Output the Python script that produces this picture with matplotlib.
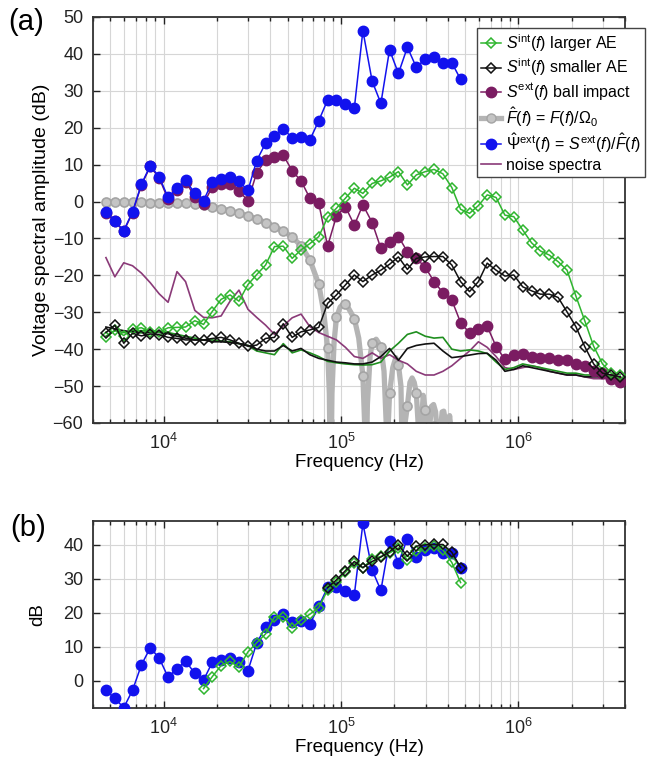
import numpy as np
import matplotlib as mpl
mpl.use('Agg')
import matplotlib.pyplot as plt
from matplotlib.lines import Line2D
from matplotlib.ticker import LogLocator, NullFormatter

plt.rcParams['font.family'] = ['Liberation Sans', 'DejaVu Sans']
plt.rcParams['mathtext.fontset'] = 'custom'
plt.rcParams['mathtext.rm'] = 'Liberation Sans'
plt.rcParams['mathtext.it'] = 'Liberation Sans:italic'
plt.rcParams['mathtext.bf'] = 'Liberation Sans:bold'

# analysis frequencies (kHz), 1/20-decade spacing
freq_khz = [4.73, 5.31, 5.96, 6.68, 7.50, 8.41, 9.44, 10.6, 11.9, 13.3,
            15.0, 16.8, 18.8, 21.1, 23.7, 26.6, 29.9, 33.5, 37.6, 42.2,
            47.3, 53.1, 59.6, 66.8, 75.0, 84.1, 94.4, 106, 119, 133,
            150, 168, 188, 211, 237, 266, 299, 335, 376, 422,
            473, 531, 596, 668, 750, 841, 944, 1059, 1189, 1334,
            1496, 1679, 1884, 2113, 2371, 2661, 2985, 3350, 3758]

# S_int(f), larger AE (dB)
larger_ae = [-36.8, -34.8, -36.3, -34.5, -34.2, -35.3, -35.4, -34.2, -34.1, -34.0,
             -32.3, -33.3, -29.8, -26.5, -25.3, -27.0, -22.5, -19.8, -17.2, -12.2,
             -12.1, -15.4, -13.1, -11.4, -9.5, -4.3, -1.8, 0.9, 3.6, 2.2,
             4.9, 5.6, 6.6, 8.1, 4.5, 7.2, 8.1, 8.7, 7.5, 3.8,
             -2.1, -3.2, -1.1, 1.8, 1.1, -3.7, -4.1, -7.7, -11.2, -13.4,
             -14.5, -16.3, -18.6, -25.6, -32.3, -39.2, -44.0, -46.5, -47.0]

# S_int(f), smaller AE (dB)
smaller_ae = [-35.5, -33.5, -38.4, -35.7, -36.4, -35.9, -36.1, -36.8, -37.1, -37.5,
              -37.5, -37.5, -37.1, -36.8, -37.5, -38.4, -39.2, -38.9, -37.1, -36.8,
              -33.1, -36.8, -35.3, -34.8, -34.1, -27.6, -25.3, -22.6, -19.9, -21.7,
              -19.9, -18.6, -17.0, -15.0, -18.4, -15.4, -15.0, -14.9, -14.9, -17.2,
              -21.7, -24.4, -21.7, -16.7, -18.6, -20.2, -19.9, -23.1, -24.2, -25.1,
              -25.1, -26.0, -29.9, -33.9, -39.3, -44.0, -46.5, -47.0, -47.5]

# S_ext(f), ball impact (dB)
ball_impact = [-3.0, -5.4, -8.1, -3.0, 4.5, 9.5, 6.4, 0.6, 3.1, 5.4,
               1.3, -0.7, 4.0, 4.7, 4.7, 2.9, 0.2, 7.8, 11.2, 12.1,
               12.6, 8.3, 5.6, 0.9, -0.5, -12.1, -3.9, -1.4, -6.4, -0.9,
               -5.7, -12.7, -10.9, -9.5, -13.6, -15.4, -17.8, -21.7, -24.7, -26.7,
               -32.8, -35.6, -34.6, -33.8, -39.3, -42.8, -41.6, -41.3, -42.0, -42.5,
               -42.5, -43.0, -43.0, -44.0, -44.5, -46.0, -46.5, -48.0, -49.0]

# Psi_ext(f) = S_ext(f) / F_hat(f) (dB)
psi_ext = [-2.8, -5.2, -7.9, -2.8, 4.7, 9.7, 6.7, 1.1, 3.6, 5.8,
           2.2, 0.2, 5.4, 6.1, 6.7, 5.5, 3.0, 11.1, 15.8, 17.8,
           19.6, 17.3, 17.6, 16.7, 21.9, 27.5, 27.5, 26.4, 25.3, 46.3,
           32.6, 26.6, 41.1, 34.7, 41.8, 36.4, 38.6, 39.1, 37.5, 37.6,
           33.1]

# F_hat(f) at the analysis frequencies (dB)
f_hat = [-0.2, -0.2, -0.2, -0.2, -0.2, -0.3, -0.3, -0.3, -0.4, -0.5,
         -0.7, -0.9, -1.4, -1.9, -2.5, -3.2, -3.9, -4.7, -5.7, -6.8,
         -8.0, -9.6, -12.0, -15.8, -22.4, -39.6, -31.4, -27.8, -31.7, -47.2,
         -38.3, -39.3, -52.0, -44.2, -55.4, -51.8, -56.4, -60.8, -62.2, -64.3,
         -65.9]

# F_hat(f) continuous curve
f_hat_curve_khz = [4.73, 7.5, 10.6, 13.3, 16.8, 18.8, 21.1, 23.7, 26.6, 29.9,
                   33.5, 37.6, 42.2, 47.3, 53.1, 59.6, 66.8, 75.0, 80.0, 84.1,
                   86.0, 87.5, 89.0, 91.5, 94.4, 99, 104, 110, 119, 126,
                   133, 136, 138, 141, 146, 150, 158, 168, 175, 180,
                   182, 185, 188, 196, 204, 211, 218, 224, 230, 237,
                   245, 252, 259, 266, 274, 278, 283, 291, 299, 306,
                   310, 315, 324, 333, 342, 350, 355, 362, 372, 380,
                   390, 398, 403, 410, 418, 425]
f_hat_curve_db = [-0.2, -0.2, -0.3, -0.5, -0.9, -1.4, -1.9, -2.5, -3.2, -3.9,
                  -4.7, -5.7, -6.8, -8.0, -9.6, -12.0, -15.8, -22.4, -30.0, -39.6,
                  -52.0, -80.0, -52.0, -38.0, -31.4, -28.6, -27.6, -28.8, -31.7, -37.0,
                  -47.2, -60.0, -80.0, -55.0, -42.0, -38.3, -37.3, -39.3, -46.0, -60.0,
                  -80.0, -60.0, -52.0, -45.0, -42.3, -44.2, -50.0, -80.0, -60.0, -55.4,
                  -49.0, -47.8, -49.0, -51.8, -62.0, -80.0, -62.0, -52.5, -56.4, -64.0,
                  -80.0, -62.0, -55.5, -55.0, -57.0, -64.0, -80.0, -64.0, -57.0, -56.8,
                  -60.0, -80.0, -62.0, -58.0, -62.0, -75.0]

# noise spectra (dB)
noise_ball = [-15.2, -20.4, -16.6, -17.4, -19.4, -22.0, -25.0, -27.3, -19.0, -21.7,
              -29.5, -31.4, -31.5, -31.0, -27.0, -24.0, -29.2, -31.4, -33.5, -36.0,
              -33.7, -31.5, -30.5, -33.9, -35.5, -36.5, -37.5, -39.5, -42.0, -42.5,
              -41.0, -42.5, -41.5, -43.0, -44.0, -46.0, -47.0, -47.0, -46.0, -44.5,
              -42.5, -40.5, -38.0, -39.5, -42.0, -45.0, -45.5, -45.0, -44.5, -45.0,
              -46.0, -46.5, -47.0, -47.0, -47.5, -48.0, -48.0, -48.0, -48.0]
noise_larger = [-36.5, -35.0, -35.5, -35.0, -35.0, -35.0, -35.2, -35.5, -36.0, -36.5,
                -37.0, -37.5, -37.5, -37.8, -38.0, -38.5, -39.0, -40.5, -41.0, -41.5,
                -38.5, -41.0, -40.2, -41.0, -42.0, -43.3, -43.7, -44.0, -44.2, -44.3,
                -44.2, -43.5, -40.5, -38.4, -36.0, -35.3, -36.5, -37.0, -36.8, -40.0,
                -40.5, -40.2, -40.5, -41.2, -43.5, -45.5, -45.0, -44.0, -44.5, -45.0,
                -45.5, -46.0, -46.5, -46.5, -47.0, -47.0, -47.5, -47.5, -47.5]
noise_smaller = [-34.0, -34.5, -35.0, -35.3, -35.5, -35.5, -35.5, -35.8, -36.5, -37.0,
                 -37.5, -37.5, -38.0, -38.0, -38.2, -38.5, -39.0, -40.0, -40.5, -40.5,
                 -39.0, -40.5, -39.8, -41.5, -42.5, -43.0, -43.5, -43.7, -44.0, -44.0,
                 -43.5, -42.0, -39.8, -43.0, -39.8, -39.0, -38.6, -38.4, -40.5, -42.3,
                 -42.0, -41.6, -41.2, -41.1, -43.0, -46.0, -45.5, -44.5, -45.0, -45.5,
                 -46.0, -46.5, -47.0, -47.0, -47.5, -47.5, -47.5, -47.5, -47.5]

# level shifts used to line the source spectra up with Psi_ext in panel (b)
larger_shift = 31.0
smaller_shift = 55.0
larger_range = (11, 41)
smaller_range = (25, 41)

green = '#2fb52f'
green_noise = '#1f8f1f'
purple = '#7b1c62'
purple_noise = '#8a3a78'
blue = '#1212ee'
gray = '#b4b4b4'

freq = np.array(freq_khz) * 1e3
fhc = np.array(f_hat_curve_khz) * 1e3


def style_axes(ax, ylim, yticks):
    ax.set_xscale('log')
    ax.set_xlim(4e3, 4e6)
    ax.set_ylim(*ylim)
    ax.set_yticks(yticks)
    ax.xaxis.set_major_locator(LogLocator(base=10, numticks=10))
    ax.xaxis.set_minor_locator(LogLocator(base=10, subs=np.arange(2, 10), numticks=20))
    ax.xaxis.set_minor_formatter(NullFormatter())
    ax.grid(True, which='major', color='#d6d6d6', lw=0.8)
    ax.grid(True, which='minor', axis='x', color='#d6d6d6', lw=0.8)
    ax.set_axisbelow(True)
    ax.tick_params(which='both', direction='in', top=True, right=True,
                   labelsize=13, colors='#222222', width=1.0)
    ax.tick_params(which='major', length=5, pad=7)
    ax.tick_params(which='minor', length=3)
    for sp in ax.spines.values():
        sp.set_color('#333333')
        sp.set_linewidth(1.3)


fig = plt.figure(figsize=(6.51, 7.72), dpi=100)
ax1 = fig.add_axes([0.1429, 0.4521, 0.8172, 0.5259])
ax2 = fig.add_axes([0.1429, 0.0829, 0.8172, 0.2422])

dmd = dict(marker='D', ms=5.5, mfc='none', mew=1.1, lw=1.1)
dot = dict(marker='o', ms=7.5, lw=1.1)

# panel (a)
ax1.plot(fhc, f_hat_curve_db, color=gray, lw=3.8, solid_joinstyle='round', zorder=2)
ax1.plot(freq[:len(f_hat)], f_hat, ls='none', marker='o', ms=6.5, mfc='#c4c4c4',
         mec='#a4a4a4', mew=1.2, zorder=2.1)
ax1.plot(freq, noise_ball, color=purple_noise, lw=1.2, zorder=3)
ax1.plot(freq, noise_larger, color=green_noise, lw=1.2, zorder=3)
ax1.plot(freq, noise_smaller, color='#111111', lw=1.2, zorder=3)
ax1.plot(freq, ball_impact, color=purple, mfc=purple, mec=purple, zorder=4, **dot)
ax1.plot(freq[:len(psi_ext)], psi_ext, color=blue, mfc=blue, mec=blue, zorder=5, **dot)
ax1.plot(freq, larger_ae, color=green, mec=green, zorder=6, **dmd)
ax1.plot(freq, smaller_ae, color='#111111', mec='#111111', zorder=7, **dmd)

style_axes(ax1, (-60, 50), np.arange(-60, 51, 10))
ax1.set_xlabel('Frequency (Hz)', fontsize=13.5, labelpad=1)
ax1.set_ylabel('Voltage spectral amplitude (dB)', fontsize=14, labelpad=2)

handles = [
    Line2D([], [], color=green, mec=green, **dmd),
    Line2D([], [], color='#111111', mec='#111111', **dmd),
    Line2D([], [], color=purple, mfc=purple, mec=purple, **dot),
    Line2D([], [], color=gray, lw=3.8, marker='o', ms=6.5, mfc='#c4c4c4', mec='#a4a4a4'),
    Line2D([], [], color=blue, mfc=blue, mec=blue, **dot),
    Line2D([], [], color=purple_noise, lw=1.2),
]
labels = [
    r'$S^{\mathrm{int}}(f)$ larger AE',
    r'$S^{\mathrm{int}}(f)$ smaller AE',
    r'$S^{\mathrm{ext}}(f)$ ball impact',
    r'$\hat{F}(f)$ = $F(f)/\Omega_0$',
    r'$\hat{\Psi}^{\mathrm{ext}}(f)$ = $S^{\mathrm{ext}}(f)/\hat{F}(f)$',
    'noise spectra',
]
leg = ax1.legend(handles, labels, loc='upper right',
                 bbox_to_anchor=(645 / 651, 1 - 28 / 772),
                 bbox_transform=fig.transFigure, fontsize=11.5, frameon=True,
                 fancybox=False, framealpha=1, edgecolor='#444444',
                 handlelength=1.25, handletextpad=0.3, borderpad=0.25,
                 labelspacing=0.18, borderaxespad=0)
leg.get_frame().set_linewidth(1.0)
leg.set_zorder(20)

# panel (b): source spectra shifted onto Psi_ext
i0, i1 = larger_range
j0, j1 = smaller_range
ax2.plot(freq[:len(psi_ext)], psi_ext, color=blue, mfc=blue, mec=blue, zorder=3, **dot)
ax2.plot(freq[i0:i1], np.array(larger_ae[i0:i1]) + larger_shift, color=green,
         mec=green, zorder=4, **dmd)
ax2.plot(freq[j0:j1], np.array(smaller_ae[j0:j1]) + smaller_shift, color='#111111',
         mec='#111111', zorder=5, **dmd)

style_axes(ax2, (-8, 47), np.arange(0, 41, 10))
ax2.set_xlabel('Frequency (Hz)', fontsize=13.5, labelpad=1)
ax2.set_ylabel('dB', fontsize=13.5, labelpad=12)

fig.text(8 / 651, 1 - 22 / 772, '(a)', fontsize=21, va='center', ha='left')
fig.text(10 / 651, 1 - 528 / 772, '(b)', fontsize=21, va='center', ha='left')

fig.savefig('out.png', dpi=100)
